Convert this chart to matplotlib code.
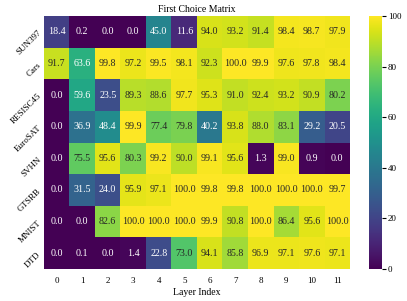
import numpy as np
import matplotlib
matplotlib.use("Agg")
import matplotlib.pyplot as plt
import seaborn as sns

datasets = ["SUN397", "Cars", "RESISC45", "EuroSAT", "SVHN", "GTSRB", "MNIST", "DTD"]
layers = list(range(12))

sun397 = [18.4, 0.2, 0.0, 0.0, 45.0, 11.6, 94.0, 93.2, 91.4, 98.4, 98.7, 97.9]
cars = [91.7, 63.6, 99.8, 97.2, 99.5, 98.1, 92.3, 100.0, 99.9, 97.6, 97.8, 98.4]
resisc45 = [0.0, 59.6, 23.5, 89.3, 88.6, 97.7, 95.3, 91.0, 92.4, 93.2, 90.9, 80.2]
eurosat = [0.0, 36.9, 48.4, 99.9, 77.4, 79.8, 40.2, 93.8, 88.0, 83.1, 29.2, 20.5]
svhn = [0.0, 75.5, 95.6, 80.3, 99.2, 90.0, 99.1, 95.6, 1.3, 99.0, 0.9, 0.0]
gtsrb = [0.0, 31.5, 24.0, 95.9, 97.1, 100.0, 99.8, 99.8, 100.0, 100.0, 100.0, 99.7]
mnist = [0.0, 0.0, 82.6, 100.0, 100.0, 100.0, 99.9, 90.8, 100.0, 86.4, 95.6, 100.0]
dtd = [0.0, 0.1, 0.0, 1.4, 22.8, 73.0, 94.1, 85.8, 96.9, 97.1, 97.6, 97.1]

matrix = np.array([sun397, cars, resisc45, eurosat, svhn, gtsrb, mnist, dtd])

plt.rcParams['font.family'] = ['Liberation Serif', 'DejaVu Serif']

fig = plt.figure(figsize=(4.07, 3.01), dpi=100)
ax = fig.add_axes([0.108, 0.106, 0.752, 0.841])
cax = fig.add_axes([0.907, 0.106, 0.032, 0.841])

sns.heatmap(matrix, ax=ax, cbar_ax=cax, cmap="viridis", vmin=0, vmax=100,
            annot=True, fmt=".1f", annot_kws={"fontsize": 7.2},
            xticklabels=layers, yticklabels=datasets)

ax.set_title("First Choice Matrix", fontsize=7, pad=3)
ax.set_xlabel("Layer Index", fontsize=7, labelpad=2)
ax.tick_params(axis='x', labelsize=6.5, length=0, pad=6)
ax.tick_params(axis='y', labelsize=6.5, length=0, pad=3)
plt.setp(ax.get_yticklabels(), rotation=45, ha='right', va='center', rotation_mode='anchor')
plt.setp(ax.get_xticklabels(), rotation=0)

cax.tick_params(labelsize=6.5, length=3, width=0.8, pad=1)
cax.set_yticks([0, 20, 40, 60, 80, 100])
for s in cax.spines.values():
    s.set_visible(False)

fig.savefig("out.png", dpi=100)
